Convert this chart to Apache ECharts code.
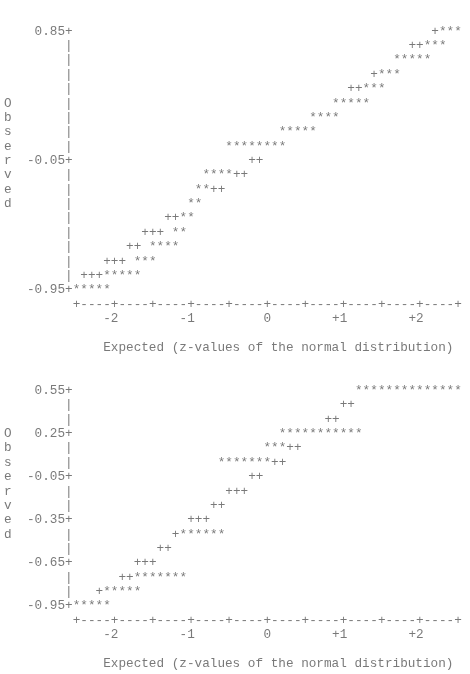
<!DOCTYPE html>
<html>
<head>
<meta charset="utf-8">
<title>Normal Q-Q plots</title>
<script src="https://cdn.jsdelivr.net/npm/echarts@6/dist/echarts.min.js"></script>
<style>
  html, body { margin: 0; padding: 0; background: #fff; }
  #chart { width: 470px; height: 674px; }
</style>
</head>
<body>
<div id="chart"></div>
<script>
// shared axis texts
var xTicks = [-2, -1, 0, 1, 2];
var xTickLabels = ["-2", "-1", "0", "+1", "+2"];
var xTitle = "Expected (z-values of the normal distribution)";
var yTitle = "Observed";

// top plot: observed value of each printed row, z of its first glyph, glyphs
var topYTicks = [0.85, -0.05, -0.95];
var topValues = [0.85, 0.75, 0.65, 0.55, 0.45, 0.35, 0.25, 0.15, 0.05, -0.05,
  -0.15, -0.25, -0.35, -0.45, -0.55, -0.65, -0.75, -0.85, -0.95];
var topStart = [2.2, 1.9, 1.7, 1.4, 1.1, 0.9, 0.6, 0.2, -0.5, -0.2,
  -0.8, -0.9, -1.0, -1.3, -1.6, -1.8, -2.1, -2.4, -2.5];
var topGlyphs = ["+***", "++***", "*****", "+***", "++***", "*****", "****", "*****", "********", "++",
  "****++", "**++", "**", "++**", "+++ **", "++ ****", "+++ ***", "+++*****", "*****"];

// bottom plot
var botYTicks = [0.55, 0.25, -0.05, -0.35, -0.65, -0.95];
var botValues = [0.55, 0.45, 0.35, 0.25, 0.15, 0.05, -0.05, -0.15,
  -0.25, -0.35, -0.45, -0.55, -0.65, -0.75, -0.85, -0.95];
var botStart = [1.2, 1.0, 0.8, 0.2, 0.0, -0.6, -0.2, -0.5,
  -0.7, -1.0, -1.2, -1.4, -1.7, -1.9, -2.2, -2.5];
var botGlyphs = ["**************", "++", "++", "***********", "***++", "*******++", "++", "+++",
  "++", "+++", "+******", "++", "+++", "++*******", "+*****", "*****"];

var COL = 0.1;   // z per printed column
var ROW = 0.1;   // observed units per printed line
var CW = 7.63;   // pixel width of one column
var LH = 14.37;  // pixel height of one line
var FONT = {
  fontFamily: "Liberation Mono, Courier New, monospace",
  fontSize: 12.7,
  color: "#585858"
};

function isTick(v, ticks) {
  return ticks.some(function (t) { return Math.abs(t - v) < 1e-6; });
}

function buildPlot(values, start, glyphs, yTicks, nameTop) {
  var stars = [], pluses = [], frame = [];
  values.forEach(function (v, i) {
    var s = glyphs[i];
    for (var k = 0; k < s.length; k++) {
      var pt = [start[i] + k * COL, v];
      if (s.charAt(k) === "*") stars.push(pt);
      else if (s.charAt(k) === "+") pluses.push(pt);
    }
  });
  var yMax = yTicks[0], yMin = yTicks[yTicks.length - 1];
  var axisZ = -2.6;
  var n = Math.round((yMax - yMin) / ROW);
  for (var r = 0; r <= n; r++) {
    var y = yMax - r * ROW;
    if (isTick(y, yTicks)) {
      frame.push({ value: [axisZ, y], text: "+" });
      frame.push({ value: [axisZ - COL / 2, y], text: y.toFixed(2), label: { align: "right" } });
    } else {
      frame.push({ value: [axisZ, y], text: "|" });
    }
  }
  // x axis line
  for (var c = 0; c <= 50; c++) {
    frame.push({ value: [-2.5 + c * COL, yMin - ROW], text: c % 5 === 0 ? "+" : "-" });
  }
  xTicks.forEach(function (t, i) {
    frame.push({ value: [t + COL / 2, yMin - 2 * ROW], text: xTickLabels[i], label: { align: "right" } });
  });
  frame.push({ value: [-2.1 - COL / 2, yMin - 4 * ROW], text: xTitle, label: { align: "left" } });
  for (var k = 0; k < yTitle.length; k++) {
    frame.push({ value: [-3.4, nameTop - k * ROW], text: yTitle.charAt(k) });
  }
  return { stars: stars, pluses: pluses, frame: frame, yMax: yMax };
}

function textSeries(data, idx, glyph, name) {
  return {
    name: name,
    type: "scatter",
    xAxisIndex: idx,
    yAxisIndex: idx,
    data: data,
    symbolSize: 1,
    itemStyle: { color: "rgba(0,0,0,0)" },
    silent: true,
    label: Object.assign({
      show: true,
      position: "inside",
      formatter: glyph ? glyph : function (p) { return p.data.text; }
    }, FONT)
  };
}

var topPlot = buildPlot(topValues, topStart, topGlyphs, topYTicks, 0.35);
var botPlot = buildPlot(botValues, botStart, botGlyphs, botYTicks, 0.25);

var topRows = 23, botRows = 20;
var firstLine = 31.3;
var grids = [
  { left: 4, width: 60 * CW, top: firstLine - LH / 2, height: topRows * LH },
  { left: 4, width: 60 * CW, top: firstLine + 25 * LH - LH / 2, height: botRows * LH }
];

function xAx(i) {
  return { type: "value", gridIndex: i, min: -3.45, max: 2.55, show: false };
}
function yAx(i, p, rows) {
  var hi = p.yMax + ROW / 2;
  return { type: "value", gridIndex: i, max: hi, min: hi - rows * ROW, show: false };
}

var chart = echarts.init(document.getElementById("chart"));
chart.setOption({
  backgroundColor: "#fff",
  animation: false,
  grid: grids,
  xAxis: [xAx(0), xAx(1)],
  yAxis: [yAx(0, topPlot, topRows), yAx(1, botPlot, botRows)],
  series: [
    textSeries(topPlot.frame, 0, null, "frame"),
    textSeries(topPlot.pluses, 0, "+", "expected"),
    textSeries(topPlot.stars, 0, "*", "observed"),
    textSeries(botPlot.frame, 1, null, "frame"),
    textSeries(botPlot.pluses, 1, "+", "expected"),
    textSeries(botPlot.stars, 1, "*", "observed")
  ]
});
</script>
</body>
</html>
